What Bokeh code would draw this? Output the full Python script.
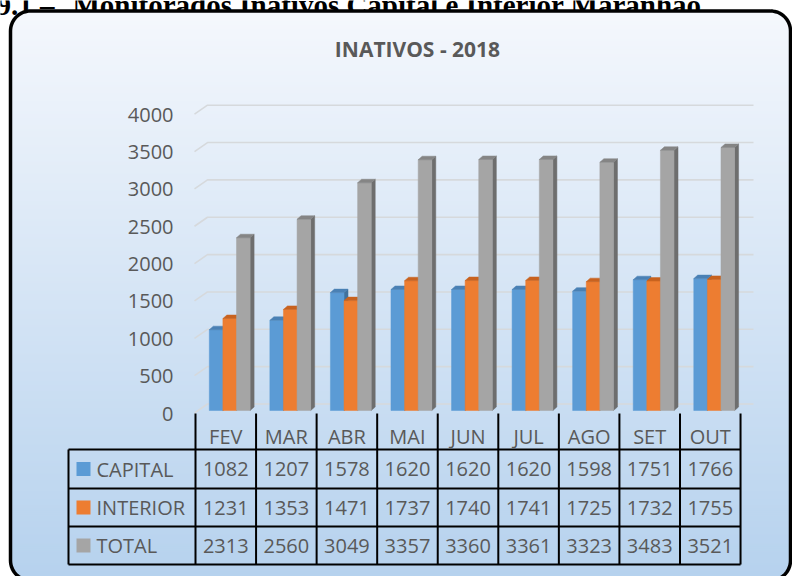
import numpy as np
from bokeh.plotting import figure
from bokeh.models import Range1d
from bokeh.core.properties import value
from bokeh.embed import file_html
from bokeh.resources import INLINE

# ---------------- data ----------------
page_heading_num = "9.1 –"
page_heading = "Monitorados Inativos Capital e Interior Maranhão"
chart_title = "INATIVOS - 2018"
months = ["FEV", "MAR", "ABR", "MAI", "JUN", "JUL", "AGO", "SET", "OUT"]
capital = [1082, 1207, 1578, 1620, 1620, 1620, 1598, 1751, 1766]
interior = [1231, 1353, 1471, 1737, 1740, 1741, 1725, 1732, 1755]
total = [2313, 2560, 3049, 3357, 3360, 3361, 3323, 3483, 3521]
series_names = ["CAPITAL", "INTERIOR", "TOTAL"]
y_ticks = [0, 500, 1000, 1500, 2000, 2500, 3000, 3500, 4000]

# ---------------- styles / layout ----------------
FRONT = ["#5b9bd5", "#ed7d31", "#a5a5a5"]
TOPC = ["#4a80b4", "#c8621f", "#858585"]
SIDE = ["#41719c", "#b85a1c", "#6e6e6e"]
TXT = "#595959"
FONT = "Open Sans"

W, H = 792, 576
K = 0.0747          # pixels per unit on the bar front plane
Y0 = 410.0          # pixel row of value 0


def yv(py):
    return (Y0 - py) / K


def dpx(px):
    return px / K


p = figure(width=W, height=H, x_range=Range1d(0, W),
           y_range=Range1d(yv(H), yv(0)),
           x_axis_type=None, y_axis_type=None, toolbar_location=None,
           output_backend="svg", min_border=0)
p.outline_line_color = None
p.background_fill_color = "white"
p.border_fill_color = "white"

# ---------------- page heading (cut off at top, as in the source) ----------------
p.text(x=[-4], y=[yv(4.0)], text=[page_heading_num], text_font=value("Liberation Serif"),
       text_font_style="bold", text_font_size="29px", text_color="black",
       text_align="left", text_baseline="alphabetic")
p.text(x=[72], y=[yv(4.0)], text=[page_heading], text_font=value("Liberation Serif"),
       text_font_style="bold", text_font_size="29px", text_color="black",
       text_align="left", text_baseline="alphabetic")

# ---------------- rounded box with gradient ----------------
BX0, BY0, BX1, BY1, R = 10.0, 10.5, 790.0, 580.0, 20.0
c_top = np.array([245, 248, 253])
c_bot = np.array([182, 210, 238])
step = 2.0
lefts, rights, tops, bots, cols = [], [], [], [], []
yy = BY0
while yy < BY1:
    y2 = min(yy + step, BY1)
    ym = (yy + y2) / 2
    inset = 0.0
    if ym < BY0 + R:
        dy = BY0 + R - ym
        inset = R - np.sqrt(max(R * R - dy * dy, 0))
    elif ym > BY1 - R:
        dy = ym - (BY1 - R)
        inset = R - np.sqrt(max(R * R - dy * dy, 0))
    t = (ym - BY0) / (BY1 - BY0)
    c = (c_top * (1 - t) + c_bot * t).astype(int)
    lefts.append(BX0 + inset)
    rights.append(BX1 - inset)
    tops.append(yv(yy - 0.3))
    bots.append(yv(y2 + 0.3))
    cols.append("#%02x%02x%02x" % tuple(c))
    yy = y2
p.quad(left=lefts, right=rights, top=tops, bottom=bots, fill_color=cols, line_color=None)

# border path
bx, by = [], []
for cx, cy, a0 in [(BX1 - R, BY0 + R, -90), (BX1 - R, BY1 - R, 0),
                   (BX0 + R, BY1 - R, 90), (BX0 + R, BY0 + R, 180)]:
    ang = np.radians(np.linspace(a0, a0 + 90, 16))
    bx += list(cx + R * np.cos(ang))
    by += list(yv(cy + R * np.sin(ang)))
bx.append(bx[0])
by.append(by[0])
p.line(bx, by, line_color="black", line_width=3.5)

# ---------------- title ----------------
p.text(x=[417], y=[yv(48)], text=[chart_title], text_font=value(FONT),
       text_font_style="bold", text_font_size="21px", text_color=TXT,
       text_align="center", text_baseline="middle")

# ---------------- gridlines (back wall) ----------------
GX_FRONT, GX_BACK, GX_END = 194.0, 207.0, 753.0
gxs, gys = [], []
for tv in y_ticks:
    gxs.append([GX_FRONT, GX_BACK, GX_END])
    gys.append([tv - dpx(2.5), tv + dpx(6.5), tv + dpx(6.5)])
p.multi_line(gxs, gys, line_color="#d6d9dc", line_width=1.6)

# tick labels
p.text(x=[173] * len(y_ticks), y=y_ticks, text=[str(v) for v in y_ticks],
       text_font=value(FONT), text_font_size="20px", text_color=TXT,
       text_align="right", text_baseline="middle", y_offset=3)

# ---------------- 3D bars ----------------
COL0, COLW = 195.0, 60.56
BAR0, BARW = 13.8, 13.6
DX, DY = 4.0, 3.5
series = [capital, interior, total]
n = len(months)
for j, vals in enumerate(series):
    x0 = [COL0 + i * COLW + BAR0 + j * BARW for i in range(n)]
    side_x, side_y, top_x, top_y = [], [], [], []
    for a, v in zip(x0, vals):
        b = a + BARW
        side_x.append([b, b + DX, b + DX, b])
        side_y.append([0, dpx(DY), v + dpx(DY), v])
        top_x.append([a, b, b + DX, a + DX])
        top_y.append([v, v, v + dpx(DY), v + dpx(DY)])
    p.patches(side_x, side_y, fill_color=SIDE[j], line_color=SIDE[j], line_width=0.5)
    p.vbar(x=[a + BARW / 2 for a in x0], width=BARW, top=vals, bottom=0,
           fill_color=FRONT[j], line_color=FRONT[j], line_width=0.5)
    p.patches(top_x, top_y, fill_color=TOPC[j], line_color=TOPC[j], line_width=0.5)

# ---------------- data table ----------------
T_LEFT = 68.0
ROW_LINES = [449.0, 488.0, 526.0, 564.0]
HEAD_TOP = 413.0
HEAD_Y = 436.0
ROW_Y = [468.5, 507.0, 545.0]
col_edges = [COL0 + i * COLW for i in range(n + 1)]
col_mid = [COL0 + (i + 0.5) * COLW for i in range(n)]

lx, ly = [], []
for ry in ROW_LINES:
    lx.append([T_LEFT, col_edges[-1]])
    ly.append([yv(ry), yv(ry)])
for ex in col_edges:
    lx.append([ex, ex])
    ly.append([yv(HEAD_TOP), yv(ROW_LINES[-1])])
lx.append([T_LEFT, T_LEFT])
ly.append([yv(ROW_LINES[0]), yv(ROW_LINES[-1])])
p.multi_line(lx, ly, line_color="black", line_width=2)

# month header
p.text(x=col_mid, y=[yv(HEAD_Y)] * n, text=months, text_font=value(FONT),
       text_font_size="20px", text_color=TXT, text_align="center",
       text_baseline="middle")

# rows
for r, vals in enumerate(series):
    ycen = ROW_Y[r]
    p.text(x=col_mid, y=[yv(ycen)] * n, text=[str(v) for v in vals],
           text_font=value(FONT), text_font_size="20px", text_color=TXT,
           text_align="center", text_baseline="middle")
    p.quad(left=[76], right=[90], top=[yv(ycen - 7)], bottom=[yv(ycen + 7)],
           fill_color=FRONT[r], line_color=None)
    p.text(x=[96], y=[yv(ycen)], text=[series_names[r]], text_font=value(FONT),
           text_font_size="20px", text_color=TXT, text_align="left",
           text_baseline="middle")

open("out.html", "w").write(file_html(p, INLINE))
